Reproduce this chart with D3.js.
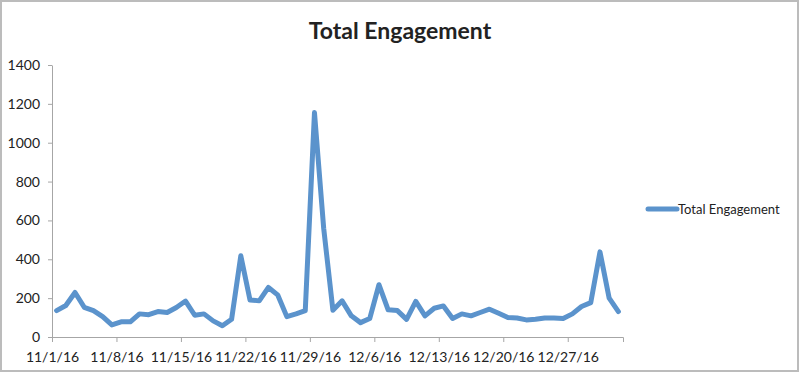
<!DOCTYPE html>
<html>
<head>
<meta charset="utf-8">
<script src="https://cdn.jsdelivr.net/npm/d3@7"></script>
<style>
  body { margin: 0; background: #fff; }
  svg text { font-family: Lato, "Open Sans", sans-serif; fill: #222; }
</style>
</head>
<body>
<div id="chart"></div>
<script>
// daily totals, 11/1/16 .. 1/1/17
const startDate = "2016-11-01";
const endDate = "2017-01-02";
const engagement = [
  136, 162, 229, 153, 136, 105, 62, 78, 78, 119,
  115, 131, 126, 152, 185, 112, 119, 83, 58, 91,
  418, 191, 186, 255, 217, 105, 119, 136, 1155, 560,
  138, 186, 109, 74, 95, 269, 140, 136, 91, 183,
  109, 148, 160, 95, 119, 109, 126, 143, 122, 100,
  98, 88, 91, 98, 98, 95, 119, 157, 177, 438,
  200, 131
];
const yTicks = [0, 200, 400, 600, 800, 1000, 1200, 1400];
const seriesName = "Total Engagement";

const parse = d3.timeParse("%Y-%m-%d");
const t0 = parse(startDate);
const data = engagement.map((v, i) => ({date: d3.timeDay.offset(t0, i), value: v}));

const W = 800, H = 373;
const margin = {top: 65, right: 177, bottom: 36, left: 52};
const width = W - margin.left - margin.right,
      height = H - margin.top - margin.bottom;

const svg = d3.select("#chart").append("svg")
  .attr("width", W).attr("height", H);

svg.append("rect")
  .attr("x", 1).attr("y", 1).attr("width", W - 3).attr("height", H - 3)
  .attr("fill", "#fff").attr("stroke", "#bcbcbc").attr("stroke-width", 2);

const g = svg.append("g").attr("transform", `translate(${margin.left},${margin.top})`);

const x = d3.scaleTime()
  .domain([t0, parse(endDate)])
  .range([0, width]);

const y = d3.scaleLinear()
  .domain([0, 1400])
  .range([height, 0]);

// weekly ticks
const xAxis = g.append("g")
  .attr("transform", `translate(0,${height})`)
  .call(d3.axisBottom(x)
    .tickValues(d3.range(0, 62, 7).map(k => d3.timeDay.offset(t0, k)))
    .tickFormat(d3.timeFormat("%-m/%-d/%y"))
    .tickSizeOuter(0).tickSize(5));
xAxis.selectAll(".tick text").attr("font-size", 14).attr("dy", "1.2em");

const yAxis = g.append("g")
  .call(d3.axisLeft(y).tickValues(yTicks).tickFormat(d3.format("d"))
    .tickSize(4).tickSizeOuter(0).tickPadding(8));
yAxis.selectAll(".tick text").attr("font-size", 14);

g.selectAll(".domain, .tick line").attr("stroke", "#a6a6a6");
g.selectAll(".tick text").attr("fill", "#222");
g.selectAll("g").attr("font-family", null);

// points sit at the middle of each day
const line = d3.line()
  .x(d => x(d3.timeHour.offset(d.date, 12)))
  .y(d => y(d.value));

g.append("path")
  .datum(data)
  .attr("fill", "none")
  .attr("stroke", "#5b93cc")
  .attr("stroke-width", 5)
  .attr("stroke-linejoin", "round")
  .attr("stroke-linecap", "round")
  .attr("d", line);

svg.append("text")
  .attr("x", 400).attr("y", 39)
  .attr("text-anchor", "middle")
  .attr("font-size", 23).attr("font-weight", "bold")
  .attr("fill", "#000")
  .text(seriesName);

// legend
const lg = svg.append("g").attr("transform", "translate(648,209)");
lg.append("line")
  .attr("x1", 0).attr("x2", 29)
  .attr("stroke", "#5b93cc").attr("stroke-width", 5).attr("stroke-linecap", "round");
lg.append("text")
  .attr("x", 30).attr("dy", "0.35em")
  .attr("font-size", 13)
  .text(seriesName);
</script>
</body>
</html>
